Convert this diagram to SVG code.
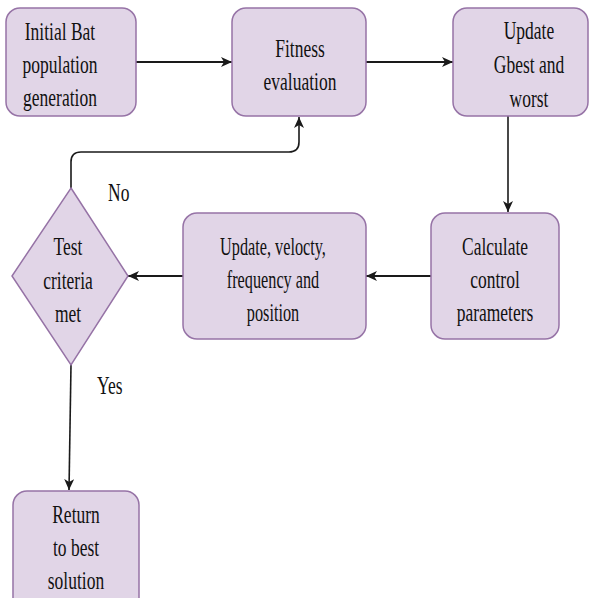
<svg xmlns="http://www.w3.org/2000/svg" width="589" height="598" viewBox="0 0 589 598">
<style>
.node{fill:#e1d5e7;stroke:#9673a6;stroke-width:1.5}
.lbl{font-family:"Liberation Serif","Times New Roman",serif;font-size:25px;fill:#111111;text-anchor:middle}
.tag{font-family:"Liberation Serif","Times New Roman",serif;font-size:25px;fill:#111111}
.edge{fill:none;stroke:#1a1a1a;stroke-width:1.6}
.thick{stroke-width:2.2}
</style>
<defs>
<marker id="arr" markerUnits="userSpaceOnUse" markerWidth="12" markerHeight="10" refX="11" refY="5" orient="auto">
<path d="M0,0 L11,5 L0,10 L3,5 z" fill="#1a1a1a"/>
</marker>
</defs>
<rect width="589" height="598" fill="#ffffff"/>
<g id="connectors">
<path class="edge thick" d="M136,62 H232" marker-end="url(#arr)"/>
<path class="edge thick" d="M366,62 H453" marker-end="url(#arr)"/>
<path class="edge" d="M508,116 V212" marker-end="url(#arr)"/>
<path class="edge thick" d="M431,276 H366" marker-end="url(#arr)"/>
<path class="edge thick" d="M183,276 H128" marker-end="url(#arr)"/>
<path class="edge" d="M71,188 V162 Q71,152 81,152 H289 Q299,152 299,142 V117" marker-end="url(#arr)"/>
<path class="edge" d="M71,365 L69,490" marker-end="url(#arr)"/>
</g>
<g id="n-init">
<rect class="node" x="6" y="8" width="130" height="108" rx="14"/>
<text class="lbl" transform="translate(60 0) scale(0.7 1)"><tspan x="0" y="40">Initial Bat</tspan><tspan x="0" y="73">population</tspan><tspan x="0" y="106">generation</tspan></text>
</g>
<g id="n-fitness">
<rect class="node" x="232" y="8" width="134" height="108" rx="14"/>
<text class="lbl" transform="translate(300 0) scale(0.7 1)"><tspan x="0" y="57">Fitness</tspan><tspan x="0" y="90">evaluation</tspan></text>
</g>
<g id="n-gbest">
<rect class="node" x="453" y="8" width="135" height="108" rx="14"/>
<text class="lbl" transform="translate(529 0) scale(0.7 1)"><tspan x="0" y="39">Update</tspan><tspan x="0" y="73">Gbest and</tspan><tspan x="0" y="107">worst</tspan></text>
</g>
<g id="n-calc">
<rect class="node" x="431" y="213" width="128" height="126" rx="14"/>
<text class="lbl" transform="translate(495 0) scale(0.7 1)"><tspan x="0" y="255">Calculate</tspan><tspan x="0" y="288">control</tspan><tspan x="0" y="321">parameters</tspan></text>
</g>
<g id="n-update">
<rect class="node" x="183" y="213" width="183" height="126" rx="14"/>
<text class="lbl" transform="translate(273 0) scale(0.65 1)"><tspan x="0" y="255">Update, velocty,</tspan><tspan x="0" y="288">frequency and</tspan><tspan x="0" y="321">position</tspan></text>
</g>
<g id="n-test">
<polygon class="node" points="71,188 128,276 71,365 12,276"/>
<text class="lbl" transform="translate(68 0) scale(0.7 1)"><tspan x="0" y="255">Test</tspan><tspan x="0" y="289">criteria</tspan><tspan x="0" y="322">met</tspan></text>
</g>
<g id="n-return">
<rect class="node" x="13" y="491" width="126" height="122" rx="14"/>
<text class="lbl" transform="translate(76 0) scale(0.7 1)"><tspan x="0" y="523">Return</tspan><tspan x="0" y="556">to best</tspan><tspan x="0" y="589">solution</tspan></text>
</g>
<g id="edge-labels">
<text class="tag" transform="translate(108 201) scale(0.7 1)">No</text>
<text class="tag" transform="translate(97 394) scale(0.7 1)">Yes</text>
</g>
</svg>
